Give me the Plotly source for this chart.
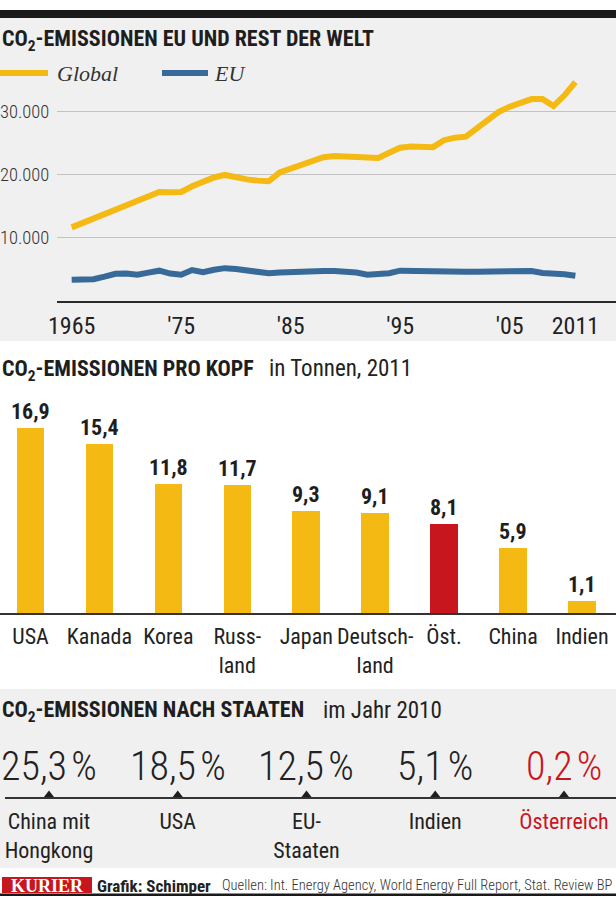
import plotly.graph_objects as go

W, H = 616, 897

def px(x):
    return x / W

def py(y):
    return 1 - y / H

# ---------------- data ----------------
years = list(range(1965, 2012))
global_em = [11600, 12300, 13000, 13700, 14400, 15200, 15900, 16700, 17200, 17150,
             17200, 18100, 18900, 19500, 19900, 19500, 19200, 19000, 18900, 20300,
             20900, 21500, 22100, 22700, 22900, 22800, 22750, 22650, 22600, 23400,
             24200, 24400, 24300, 24300, 25400, 25800, 25950, 27300, 28700, 29900,
             30700, 31400, 31900, 31900, 30800, 32500, 34600]
eu_em = [3300, 3330, 3390, 3800, 4250, 4300, 4100, 4450, 4750, 4300,
         4100, 4850, 4500, 4900, 5150, 5000, 4800, 4550, 4350, 4450,
         4550, 4650, 4700, 4700, 4700, 4650, 4450, 4100, 4150, 4350,
         4750, 4700, 4600, 4550, 4550, 4550, 4570, 4590, 4650, 4750,
         4750, 4750, 4700, 4400, 4350, 4200, 3950]
year_ticks = [1965, 1975, 1985, 1995, 2005, 2011]
year_ticktext = ["1965", "'75", "'85", "'95", "'05", "2011"]
y_ticks = [10000, 20000, 30000]
y_ticktext = ["10.000", "20.000", "30.000"]

countries = ["USA", "Kanada", "Korea", "Russland", "Japan", "Deutschland", "Öst.", "China", "Indien"]
country_labels = ["USA", "Kanada", "Korea", "Russ-<br>land", "Japan", "Deutsch-<br>land", "Öst.", "China", "Indien"]
per_capita = [16.9, 15.4, 11.8, 11.7, 9.3, 9.1, 8.1, 5.9, 1.1]
highlight_country = "Öst."

share_names = ["China mit<br>Hongkong", "USA", "EU-<br>Staaten", "Indien", "Österreich"]
share_vals = [25.3, 18.5, 12.5, 5.1, 0.2]
highlight_share = "Österreich"

# ---------------- style ----------------
FONT = "Roboto Condensed, Liberation Sans Narrow, DejaVu Sans Condensed, Roboto, sans-serif"
SERIF = "Liberation Serif, DejaVu Serif, serif"
YELLOW = "#F5B914"
BLUE = "#386A99"
RED = "#C8161E"
DARK = "#1E1E1E"
PANEL = "#F1F0F0"

def de(v):
    return f"{v:.1f}".replace(".", ",")

fig = go.Figure()

# panel 1: lines
fig.add_trace(go.Scatter(x=years, y=global_em, mode="lines", line=dict(color=YELLOW, width=6),
                         xaxis="x", yaxis="y", showlegend=False, hoverinfo="skip"))
fig.add_trace(go.Scatter(x=years, y=eu_em, mode="lines", line=dict(color=BLUE, width=6),
                         xaxis="x", yaxis="y", showlegend=False, hoverinfo="skip"))

# panel 2: bars
bar_colors = [RED if c == highlight_country else YELLOW for c in countries]
fig.add_trace(go.Bar(x=countries, y=per_capita, marker=dict(color=bar_colors, line=dict(width=0)),
                     width=0.4, xaxis="x2", yaxis="y2", showlegend=False, hoverinfo="skip"))

# panel 3: markers on line
fig.add_trace(go.Scatter(x=list(range(len(share_vals))), y=[0] * len(share_vals), mode="markers",
                         marker=dict(symbol="triangle-up", size=13, color=DARK),
                         cliponaxis=True, xaxis="x3", yaxis="y3", showlegend=False, hoverinfo="skip"))

annotations = []
shapes = []

# backgrounds
shapes.append(dict(type="rect", xref="paper", yref="paper", x0=0, x1=1, y0=py(341), y1=py(18),
                   fillcolor=PANEL, line=dict(width=0), layer="below"))
shapes.append(dict(type="rect", xref="paper", yref="paper", x0=0, x1=1, y0=py(868), y1=py(689),
                   fillcolor=PANEL, line=dict(width=0), layer="below"))
shapes.append(dict(type="rect", xref="paper", yref="paper", x0=0, x1=1, y0=py(18), y1=py(10),
                   fillcolor="#1A1A1A", line=dict(width=0)))
shapes.append(dict(type="rect", xref="paper", yref="paper", x0=0, x1=1, y0=py(896), y1=py(893.5),
                   fillcolor="#1A1A1A", line=dict(width=0)))

# legend
shapes.append(dict(type="line", xref="paper", yref="paper", x0=px(0), x1=px(48), y0=py(73), y1=py(73),
                   line=dict(color=YELLOW, width=6)))
shapes.append(dict(type="line", xref="paper", yref="paper", x0=px(162), x1=px(208), y0=py(73), y1=py(73),
                   line=dict(color=BLUE, width=6)))
annotations.append(dict(text="Global", x=px(55), y=py(73), xref="paper", yref="paper", xanchor="left",
                        yanchor="middle", showarrow=False,
                        font=dict(family=SERIF, size=22, color="#333", style="italic")))
annotations.append(dict(text="EU", x=px(212), y=py(73), xref="paper", yref="paper", xanchor="left",
                        yanchor="middle", showarrow=False,
                        font=dict(family=SERIF, size=22, color="#333", style="italic")))

# titles
def title(text, x, y, size=22, bold=True, color=DARK):
    annotations.append(dict(text=text, x=px(x), y=py(y), xref="paper", yref="paper", xanchor="left",
                            yanchor="middle", showarrow=False,
                            font=dict(family=FONT, size=size, color=color, weight=700 if bold else 400)))

title("CO<sub>2</sub>-EMISSIONEN EU UND REST DER WELT", 0, 40)
title("CO<sub>2</sub>-EMISSIONEN PRO KOPF", 0, 370)
title("in Tonnen, 2011", 267, 369, size=23, bold=False, color="#222")
title("CO<sub>2</sub>-EMISSIONEN NACH STAATEN", 0, 711)
title("im Jahr 2010", 321, 710, size=23, bold=False, color="#222")

# bar value labels
for c, v in zip(countries, per_capita):
    annotations.append(dict(text=de(v), x=c, y=v, xref="x2", yref="y2", xanchor="center", yanchor="bottom",
                            yshift=2, showarrow=False, font=dict(family=FONT, size=22, color=DARK, weight=700)))

# share values
for i, (n, v) in enumerate(zip(share_names, share_vals)):
    col = RED if n == highlight_share else "#222"
    annotations.append(dict(text=de(v) + "\u200a%", x=i, y=py(766), xref="x3", yref="paper", xanchor="center",
                            yanchor="middle", showarrow=False,
                            font=dict(family=FONT, size=40, color=col, weight=300)))

# footer
shapes.append(dict(type="rect", xref="paper", yref="paper", x0=px(2), x1=px(92), y0=py(893), y1=py(877),
                   fillcolor=RED, line=dict(width=0)))
annotations.append(dict(text="KURIER", x=px(47), y=py(885.5), xref="paper", yref="paper", xanchor="center",
                        yanchor="middle", showarrow=False,
                        font=dict(family=SERIF, size=18, color="white", weight=700)))
title("Grafik: Schimper", 95, 885.5, size=17, bold=True, color="#222")
annotations.append(dict(text="Quellen: Int. Energy Agency, World Energy Full Report, Stat. Review BP",
                        x=px(615), y=py(885.5), xref="paper", yref="paper", xanchor="right", yanchor="middle",
                        showarrow=False, font=dict(family=FONT, size=14.5, color="#333", weight=300)))

share_ticktext = [f'<span style="color:{RED}">{n}</span>' if n == highlight_share else n for n in share_names]

fig.update_layout(
    width=W, height=H,
    autosize=False,
    margin=dict(l=0, r=0, t=0, b=0, pad=0),
    paper_bgcolor="white",
    plot_bgcolor="rgba(0,0,0,0)",
    font=dict(family=FONT, color=DARK),
    shapes=shapes,
    annotations=annotations,
    bargap=0,
    xaxis=dict(domain=[px(57), 1], range=[1963.66, 2014.71], tickvals=year_ticks, ticktext=year_ticktext,
               showgrid=False, zeroline=False, showline=True, linecolor="#2A2A2A", linewidth=1.5,
               ticks="outside", ticklen=3, tickcolor="rgba(0,0,0,0)", automargin=False,
               tickfont=dict(family=FONT, size=24, color="#222"), anchor="y", fixedrange=True),
    yaxis=dict(domain=[py(300.7), py(73.2)], range=[0, 36000], tickvals=y_ticks, ticktext=y_ticktext,
               showgrid=True, gridcolor="#C3C3C3", gridwidth=1.2, zeroline=False, showline=False,
               ticks="outside", ticklen=3, tickcolor="rgba(0,0,0,0)", automargin=False,
               tickfont=dict(family=FONT, size=18.5, color="#333", weight=300), anchor="x", fixedrange=True),
    xaxis2=dict(domain=[0, 1], range=[-0.4424, 8.493], tickvals=countries, ticktext=country_labels,
                type="category", showgrid=False, zeroline=False, showline=True, linecolor="#333", linewidth=1.5,
                ticks="outside", ticklen=3, tickcolor="rgba(0,0,0,0)", automargin=False,
                tickfont=dict(family=FONT, size=22, color="#222"), anchor="y2", fixedrange=True),
    yaxis2=dict(domain=[py(613), py(394)], range=[0, 20], visible=False, anchor="x2", fixedrange=True,
                automargin=False),
    xaxis3=dict(domain=[px(5), 1], range=[-0.3417, 4.404], tickvals=list(range(len(share_names))),
                ticktext=share_ticktext, showgrid=False, zeroline=False, showline=True, linecolor="#333",
                linewidth=1.5, ticks="outside", ticklen=4, tickcolor="rgba(0,0,0,0)", automargin=False,
                tickfont=dict(family=FONT, size=22, color="#222"), anchor="y3", fixedrange=True),
    yaxis3=dict(domain=[py(797), py(760)], range=[0, 1], visible=False, anchor="x3", fixedrange=True,
                automargin=False),
)

fig.write_html(
    "out.html",
    config={"displayModeBar": False},
    post_script=(
        "document.documentElement.style.margin='0';document.documentElement.style.padding='0';"
        "document.body.style.margin='0';document.body.style.padding='0';document.body.style.overflow='hidden';"
        "var gd=document.getElementById('{plot_id}');gd.style.position='absolute';gd.style.left='0px';"
        "gd.style.top='0px';gd.style.margin='0';"
    ),
)
